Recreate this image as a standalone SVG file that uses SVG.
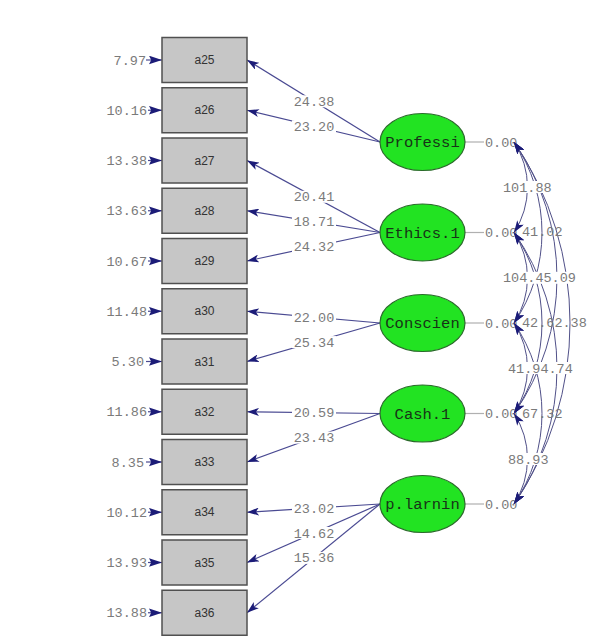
<svg xmlns="http://www.w3.org/2000/svg" width="593" height="639" viewBox="0 0 593 639">
<style>
.box{fill:#c6c6c6;stroke:#505050;stroke-width:1.5}
.bl{font-family:"Liberation Sans",Arial,sans-serif;font-size:12px;fill:#333;text-anchor:middle}
.lat{fill:#22e322;stroke:#2b6b2b;stroke-width:1.2}
.lt{font-family:"Liberation Mono","Courier New",monospace;font-size:15.5px;fill:#173317;text-anchor:middle}
.num{font-family:"Liberation Mono","Courier New",monospace;font-size:13.5px;fill:#7a7a7a}
.mid{text-anchor:middle}
.end{text-anchor:end}
.ld{stroke:#4a4a92;stroke-width:1.2;fill:none;marker-end:url(#ah)}
.err{stroke:#4a4a92;stroke-width:1.2;fill:none;marker-end:url(#ahe)}
.var{stroke:#b0b0b0;stroke-width:1.2}
.cov{stroke:#505088;stroke-width:1;fill:none;marker-start:url(#ahs);marker-end:url(#ah)}
.bg{fill:#fff}
</style>
<defs>
<marker id="ah" viewBox="0 0 12 8" refX="12" refY="4" markerWidth="12" markerHeight="8" markerUnits="userSpaceOnUse" orient="auto">
<path d="M0,0 L12,4 L0,8 L3,4 z" fill="#1c1c78"/>
</marker>
<marker id="ahs" viewBox="0 0 12 8" refX="12" refY="4" markerWidth="12" markerHeight="8" markerUnits="userSpaceOnUse" orient="auto-start-reverse">
<path d="M0,0 L12,4 L0,8 L3,4 z" fill="#1c1c78"/>
</marker>
<marker id="ahe" viewBox="0 0 12 8" refX="12" refY="4" markerWidth="13" markerHeight="9" markerUnits="userSpaceOnUse" orient="auto">
<path d="M0,0 L12,4 L0,8 L2,4 z" fill="#1c1c78"/>
</marker>
</defs>
<rect width="593" height="639" fill="#fff"/>

<g id="connectors">
<line class="err" x1="146" y1="60" x2="162" y2="60"/>
<line class="err" x1="148" y1="110.25" x2="162" y2="110.25"/>
<line class="err" x1="148" y1="160.5" x2="162" y2="160.5"/>
<line class="err" x1="148" y1="210.75" x2="162" y2="210.75"/>
<line class="err" x1="148" y1="261" x2="162" y2="261"/>
<line class="err" x1="148" y1="311.25" x2="162" y2="311.25"/>
<line class="err" x1="146" y1="361.5" x2="162" y2="361.5"/>
<line class="err" x1="148" y1="411.75" x2="162" y2="411.75"/>
<line class="err" x1="146" y1="462" x2="162" y2="462"/>
<line class="err" x1="148" y1="512.25" x2="162" y2="512.25"/>
<line class="err" x1="148" y1="562.5" x2="162" y2="562.5"/>
<line class="err" x1="148" y1="612.75" x2="162" y2="612.75"/>
<line class="ld" x1="380" y1="142" x2="247" y2="60"/>
<line class="ld" x1="380" y1="142" x2="247" y2="110.25"/>
<line class="ld" x1="380" y1="232.5" x2="247" y2="160.5"/>
<line class="ld" x1="380" y1="232.5" x2="247" y2="210.75"/>
<line class="ld" x1="380" y1="232.5" x2="247" y2="261"/>
<line class="ld" x1="380" y1="323" x2="247" y2="311.25"/>
<line class="ld" x1="380" y1="323" x2="247" y2="361.5"/>
<line class="ld" x1="380" y1="413.5" x2="247" y2="411.75"/>
<line class="ld" x1="380" y1="413.5" x2="247" y2="462"/>
<line class="ld" x1="380" y1="504" x2="247" y2="512.25"/>
<line class="ld" x1="380" y1="504" x2="247" y2="562.5"/>
<line class="ld" x1="380" y1="504" x2="247" y2="612.75"/>
<rect class="bg" x="292" y="95.3" width="44" height="12"/>
<text class="num mid" x="314" y="105.8">24.38</text>
<rect class="bg" x="292" y="120.3" width="44" height="12"/>
<text class="num mid" x="314" y="130.8">23.20</text>
<rect class="bg" x="292" y="190.8" width="44" height="12"/>
<text class="num mid" x="314" y="201.3">20.41</text>
<rect class="bg" x="292" y="215.7" width="44" height="12"/>
<text class="num mid" x="314" y="226.2">18.71</text>
<rect class="bg" x="292" y="240.6" width="44" height="12"/>
<text class="num mid" x="314" y="251.1">24.32</text>
<rect class="bg" x="292" y="311.2" width="44" height="12"/>
<text class="num mid" x="314" y="321.7">22.00</text>
<rect class="bg" x="292" y="336.1" width="44" height="12"/>
<text class="num mid" x="314" y="346.6">25.34</text>
<rect class="bg" x="292" y="406.6" width="44" height="12"/>
<text class="num mid" x="314" y="417.1">20.59</text>
<rect class="bg" x="292" y="431.6" width="44" height="12"/>
<text class="num mid" x="314" y="442.1">23.43</text>
<rect class="bg" x="292" y="502.1" width="44" height="12"/>
<text class="num mid" x="314" y="512.6">23.02</text>
<rect class="bg" x="292" y="527" width="44" height="12"/>
<text class="num mid" x="314" y="537.5">14.62</text>
<rect class="bg" x="292" y="551.9" width="44" height="12"/>
<text class="num mid" x="314" y="562.4">15.36</text>
<line class="var" x1="465" y1="142" x2="484" y2="142"/>
<line class="var" x1="465" y1="232.5" x2="484" y2="232.5"/>
<line class="var" x1="465" y1="323" x2="484" y2="323"/>
<line class="var" x1="465" y1="413.5" x2="484" y2="413.5"/>
<line class="var" x1="465" y1="504" x2="484" y2="504"/>
<text class="num" x="485" y="146.5">0.00</text>
<text class="num" x="485" y="237">0.00</text>
<text class="num" x="485" y="327.5">0.00</text>
<text class="num" x="485" y="418">0.00</text>
<text class="num" x="485" y="508.5">0.00</text>
<path class="cov" d="M514,142 A82.6,82.6 0 0 1 514,232.5"/>
<path class="cov" d="M514,232.5 A82.6,82.6 0 0 1 514,323"/>
<path class="cov" d="M514,323 A82.6,82.6 0 0 1 514,413.5"/>
<path class="cov" d="M514,413.5 A82.6,82.6 0 0 1 514,504"/>
<path class="cov" d="M514,142 A160.3,160.3 0 0 1 514,323"/>
<path class="cov" d="M514,232.5 A160.3,160.3 0 0 1 514,413.5"/>
<path class="cov" d="M514,323 A160.3,160.3 0 0 1 514,504"/>
<path class="cov" d="M514,142 A235.8,235.8 0 0 1 514,413.5"/>
<path class="cov" d="M514,232.5 A235.8,235.8 0 0 1 514,504"/>
<path class="cov" d="M514,142 A320.5,320.5 0 0 1 514,504"/>
<rect class="bg" x="503" y="181" width="49" height="12"/>
<text class="num" x="503" y="191.5">101.88</text>
<text class="num" x="522" y="236">41.02</text>
<rect class="bg" x="503" y="271.8" width="74" height="12"/>
<text class="num" x="503" y="282.2">104.45.09</text>
<text class="num" x="522" y="327">42.62.38</text>
<rect class="bg" x="508" y="362" width="66" height="12"/>
<text class="num" x="508" y="372.5">41.94.74</text>
<text class="num" x="522" y="418">67.32</text>
<rect class="bg" x="508" y="453" width="41" height="12"/>
<text class="num" x="508" y="463.5">88.93</text>
<text class="num end" x="146" y="64.5">7.97</text>
<text class="num end" x="147" y="114.75">10.16</text>
<text class="num end" x="147" y="165">13.38</text>
<text class="num end" x="147" y="215.25">13.63</text>
<text class="num end" x="147" y="265.5">10.67</text>
<text class="num end" x="147" y="315.75">11.48</text>
<text class="num end" x="144" y="366">5.30</text>
<text class="num end" x="147" y="416.25">11.86</text>
<text class="num end" x="144" y="466.5">8.35</text>
<text class="num end" x="147" y="516.75">10.12</text>
<text class="num end" x="147" y="567">13.93</text>
<text class="num end" x="147" y="617.25">13.88</text>
</g>

<g id="a25"><rect class="box" x="162" y="37.5" width="85" height="45"/><text class="bl" x="204.5" y="64">a25</text></g>
<g id="a26"><rect class="box" x="162" y="87.75" width="85" height="45"/><text class="bl" x="204.5" y="114.25">a26</text></g>
<g id="a27"><rect class="box" x="162" y="138" width="85" height="45"/><text class="bl" x="204.5" y="164.5">a27</text></g>
<g id="a28"><rect class="box" x="162" y="188.25" width="85" height="45"/><text class="bl" x="204.5" y="214.75">a28</text></g>
<g id="a29"><rect class="box" x="162" y="238.5" width="85" height="45"/><text class="bl" x="204.5" y="265">a29</text></g>
<g id="a30"><rect class="box" x="162" y="288.75" width="85" height="45"/><text class="bl" x="204.5" y="315.25">a30</text></g>
<g id="a31"><rect class="box" x="162" y="339" width="85" height="45"/><text class="bl" x="204.5" y="365.5">a31</text></g>
<g id="a32"><rect class="box" x="162" y="389.25" width="85" height="45"/><text class="bl" x="204.5" y="415.75">a32</text></g>
<g id="a33"><rect class="box" x="162" y="439.5" width="85" height="45"/><text class="bl" x="204.5" y="466">a33</text></g>
<g id="a34"><rect class="box" x="162" y="489.75" width="85" height="45"/><text class="bl" x="204.5" y="516.25">a34</text></g>
<g id="a35"><rect class="box" x="162" y="540" width="85" height="45"/><text class="bl" x="204.5" y="566.5">a35</text></g>
<g id="a36"><rect class="box" x="162" y="590.25" width="85" height="45"/><text class="bl" x="204.5" y="616.75">a36</text></g>

<g id="Professi"><ellipse class="lat" cx="422.5" cy="142" rx="42.5" ry="28.5"/><text class="lt" x="422.5" y="147">Professi</text></g>
<g id="Ethics1"><ellipse class="lat" cx="422.5" cy="232.5" rx="42.5" ry="28.5"/><text class="lt" x="422.5" y="237.5">Ethics.1</text></g>
<g id="Conscien"><ellipse class="lat" cx="422.5" cy="323" rx="42.5" ry="28.5"/><text class="lt" x="422.5" y="328">Conscien</text></g>
<g id="Cash1"><ellipse class="lat" cx="422.5" cy="413.5" rx="42.5" ry="28.5"/><text class="lt" x="422.5" y="418.5">Cash.1</text></g>
<g id="plarnin"><ellipse class="lat" cx="422.5" cy="504" rx="42.5" ry="28.5"/><text class="lt" x="422.5" y="509">p.larnin</text></g>
</svg>
